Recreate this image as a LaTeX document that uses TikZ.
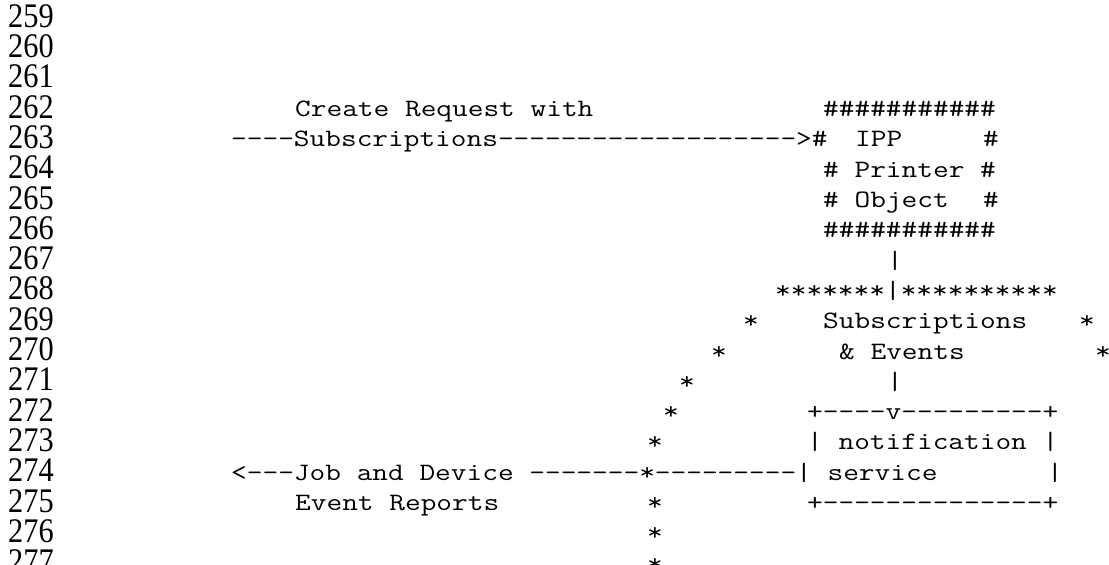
\documentclass[tikz,border=0pt]{standalone}
\usepackage{fontspec}
\usepackage{graphicx}
\newfontfamily\numfont{Liberation Serif}
% typewriter cells are 16 units wide, text rows are 30.3 units apart
\newcommand\mx[1]{\scalebox{1.219}[1]{#1}}
\newcommand\nx[1]{\scalebox{0.88}[1]{#1}}
\tikzset{
  num/.style={anchor=base west, inner sep=0pt, font=\numfont\fontsize{34.5}{34.5}\selectfont},
  mono/.style={anchor=base west, inner sep=0pt, font=\ttfamily\fontsize{25}{25}\selectfont},
}
% #1 name, #2 column, #3 row, #4 text
\newcommand\mseg[4]{\node[mono] (#1) at ({231+16*#2},{539.2-30.3*#3}) {\mx{#4}};}
\begin{document}
\begin{tikzpicture}[x=1pt,y=1pt]
\useasboundingbox (0,0) rectangle (1109,565);
% line numbers
\foreach \i in {0,...,18}{
  \node[num] (n\i) at (8,{537.7-30.3*\i}) {\nx{\the\numexpr259+\i\relax}};
}
% printer object
\mseg{req}{4}{3}{Create Request with}
\mseg{pt}{37}{3}{\#\#\#\#\#\#\#\#\#\#\#}
\mseg{sub}{0}{4}{----Subscriptions------------------->\#}
\mseg{ipp}{39}{4}{IPP}
\mseg{ippr}{47}{4}{\#}
\mseg{prn}{37}{5}{\# Printer \#}
\mseg{obj}{37}{6}{\# Object}
\mseg{objr}{47}{6}{\#}
\mseg{pb}{37}{7}{\#\#\#\#\#\#\#\#\#\#\#}
\mseg{v1}{41}{8}{|}
% subscriptions and events
\mseg{arc}{34}{9}{*******|**********}
\mseg{s1}{32}{10}{*}
\mseg{subs}{37}{10}{Subscriptions}
\mseg{s1r}{53}{10}{*}
\mseg{s2}{30}{11}{*}
\mseg{evs}{38}{11}{\& Events}
\mseg{s2r}{54}{11}{*}
\mseg{s3}{28}{12}{*}
\mseg{v2}{41}{12}{|}
% notification service
\mseg{s4}{27}{13}{*}
\mseg{nt}{36}{13}{+----v---------+}
\mseg{s5}{26}{14}{*}
\mseg{nm}{36}{14}{| notification |}
\mseg{job}{0}{15}{<---Job and Device -------*---------| service}
\mseg{nr}{51}{15}{|}
\mseg{rep}{4}{16}{Event Reports}
\mseg{s6}{26}{16}{*}
\mseg{nb}{36}{16}{+--------------+}
\mseg{s7}{26}{17}{*}
\mseg{s8}{26}{18}{*}
\end{tikzpicture}
\end{document}
